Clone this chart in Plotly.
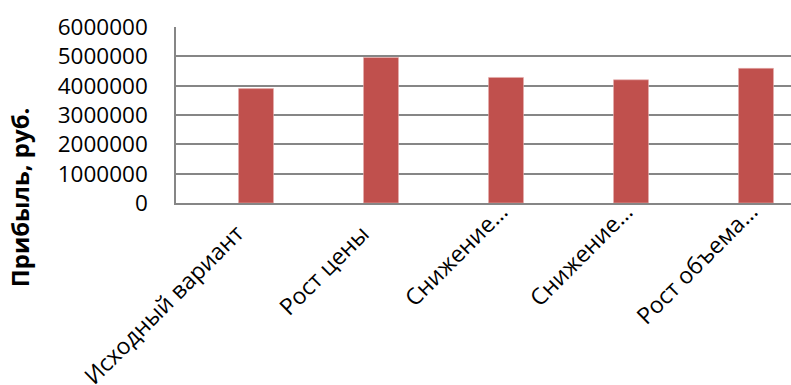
import plotly.graph_objects as go

categories = ["Исходный вариант", "Рост цены", "Снижение…", "Снижение…", "Рост объема…"]
profit = [3900000, 4960000, 4280000, 4200000, 4590000]
y_ticks = [0, 1000000, 2000000, 3000000, 4000000, 5000000, 6000000]
y_title = "Прибыль, руб."

x_idx = list(range(len(categories)))
FONT = "Open Sans, Noto Sans, sans-serif"

fig = go.Figure(go.Bar(
    x=x_idx, y=profit, width=0.28,
    marker=dict(color="#C0504D", line=dict(color="#E6B0AE", width=0.6)),
))

# category labels, rotated like the original (truncated ones sit a bit higher)
label_annotations = []
for i, lab in enumerate(categories):
    truncated = lab.endswith("…")
    label_annotations.append(dict(
        text=lab, x=i, y=0, xref="x", yref="y",
        textangle=-45, showarrow=False,
        xanchor="right", yanchor="top",
        xshift=11 if truncated else -3,
        yshift=10 if truncated else -12,
        font=dict(size=23, family=FONT, color="black"),
    ))

fig.update_layout(
    width=791, height=385,
    margin=dict(l=176, r=0, t=27, b=182, autoexpand=False),
    plot_bgcolor="white", paper_bgcolor="white",
    font=dict(family=FONT, color="black"),
    showlegend=False,
    xaxis=dict(
        range=[-0.64, 4.28], automargin=False,
        showticklabels=False, showgrid=False,
        showline=True, linecolor="#868686", linewidth=1.5,
        ticks="", zeroline=False,
    ),
    yaxis=dict(
        range=[0, 6000000], tickvals=y_ticks, automargin=False,
        ticktext=[str(v) for v in y_ticks],
        tickfont=dict(size=22.5, family=FONT),
        showgrid=True, gridcolor="#868686", gridwidth=1.5,
        showline=True, linecolor="#868686", linewidth=1.5,
        zeroline=False, ticks="", ticklabelstandoff=22,
    ),
    annotations=label_annotations + [dict(
        text="<b>" + y_title + "</b>", xref="paper", yref="paper",
        x=-0.255, y=0.034, textangle=-90, showarrow=False,
        xanchor="center", yanchor="middle",
        font=dict(size=24, family=FONT, color="black"),
    )],
)

fig.write_html("out.html", config={"displayModeBar": False},
               post_script="document.body.style.margin='0';")
